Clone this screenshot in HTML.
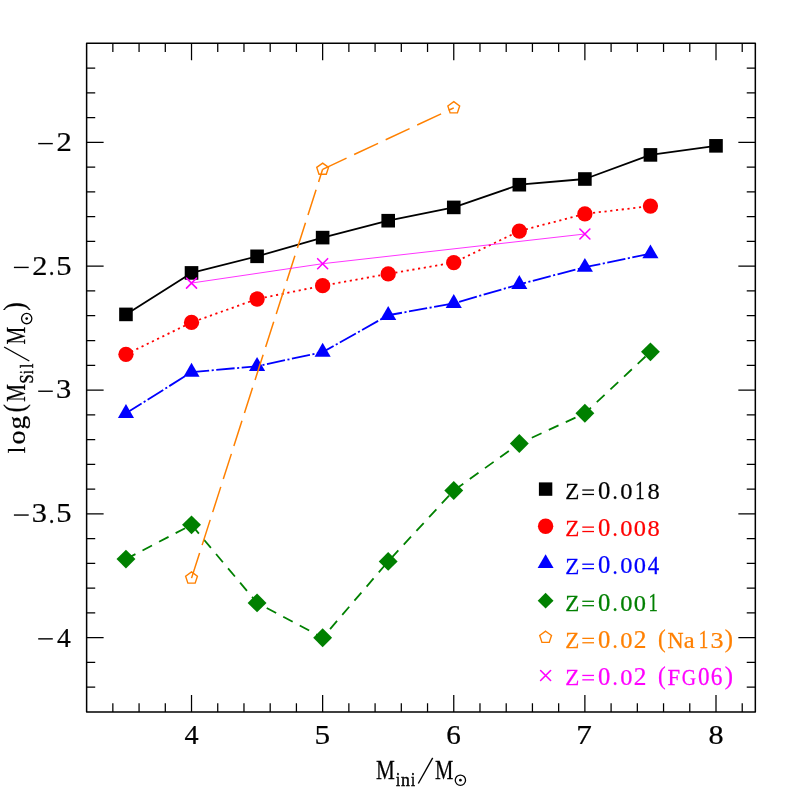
<!DOCTYPE html>
<html><head><meta charset="utf-8"><title>log(MSil/Msun) vs Mini/Msun</title>
<style>html,body{margin:0;padding:0;background:#fff;}body{width:797px;height:797px;overflow:hidden;}svg{display:block;}text{font-family:"Liberation Serif",serif;}</style>
</head><body>
<svg width="797" height="797" viewBox="0 0 797 797">
<desc>Plot of log(M_Sil/M_sun) versus M_ini/M_sun for Z=0.018, Z=0.008, Z=0.004, Z=0.001, Z=0.02 (Na13) and Z=0.02 (FG06)</desc>
<rect x="0" y="0" width="797" height="797" fill="#ffffff"/>
<g stroke="#000" stroke-width="1.5" fill="none" stroke-linecap="butt">
<rect x="86.62" y="43.35" width="668.71" height="668.60" stroke-linejoin="round"/>
<path d="M112.85 711.95V703.35M112.85 43.35V51.95M139.07 711.95V703.35M139.07 43.35V51.95M165.30 711.95V703.35M165.30 43.35V51.95M191.52 711.95V694.95M191.52 43.35V60.35M217.74 711.95V703.35M217.74 43.35V51.95M243.97 711.95V703.35M243.97 43.35V51.95M270.19 711.95V703.35M270.19 43.35V51.95M296.42 711.95V703.35M296.42 43.35V51.95M322.64 711.95V694.95M322.64 43.35V60.35M348.86 711.95V703.35M348.86 43.35V51.95M375.09 711.95V703.35M375.09 43.35V51.95M401.31 711.95V703.35M401.31 43.35V51.95M427.54 711.95V703.35M427.54 43.35V51.95M453.76 711.95V694.95M453.76 43.35V60.35M479.98 711.95V703.35M479.98 43.35V51.95M506.21 711.95V703.35M506.21 43.35V51.95M532.43 711.95V703.35M532.43 43.35V51.95M558.66 711.95V703.35M558.66 43.35V51.95M584.88 711.95V694.95M584.88 43.35V60.35M611.10 711.95V703.35M611.10 43.35V51.95M637.33 711.95V703.35M637.33 43.35V51.95M663.55 711.95V703.35M663.55 43.35V51.95M689.78 711.95V703.35M689.78 43.35V51.95M716.00 711.95V694.95M716.00 43.35V60.35M742.22 711.95V703.35M742.22 43.35V51.95M86.62 68.11H95.22M755.34 68.11H746.74M86.62 92.87H95.22M755.34 92.87H746.74M86.62 117.64H95.22M755.34 117.64H746.74M86.62 142.40H103.62M755.34 142.40H738.34M86.62 167.16H95.22M755.34 167.16H746.74M86.62 191.93H95.22M755.34 191.93H746.74M86.62 216.69H95.22M755.34 216.69H746.74M86.62 241.45H95.22M755.34 241.45H746.74M86.62 266.22H103.62M755.34 266.22H738.34M86.62 290.98H95.22M755.34 290.98H746.74M86.62 315.74H95.22M755.34 315.74H746.74M86.62 340.50H95.22M755.34 340.50H746.74M86.62 365.27H95.22M755.34 365.27H746.74M86.62 390.03H103.62M755.34 390.03H738.34M86.62 414.79H95.22M755.34 414.79H746.74M86.62 439.56H95.22M755.34 439.56H746.74M86.62 464.32H95.22M755.34 464.32H746.74M86.62 489.08H95.22M755.34 489.08H746.74M86.62 513.85H103.62M755.34 513.85H738.34M86.62 538.61H95.22M755.34 538.61H746.74M86.62 563.37H95.22M755.34 563.37H746.74M86.62 588.13H95.22M755.34 588.13H746.74M86.62 612.90H95.22M755.34 612.90H746.74M86.62 637.66H103.62M755.34 637.66H738.34M86.62 662.42H95.22M755.34 662.42H746.74M86.62 687.19H95.22M755.34 687.19H746.74" stroke-width="1.25"/>
</g>
<polyline points="125.96,314.40 191.52,272.91 257.08,256.32 322.64,237.61 388.20,220.70 453.76,207.40 519.32,184.70 584.88,179.01 650.44,154.90 716.00,145.84" stroke="#000000" stroke-width="1.8" fill="none" stroke-linecap="butt" stroke-linejoin="round"/>
<rect x="119.16" y="307.60" width="13.60" height="13.60" fill="#000000"/>
<rect x="184.72" y="266.11" width="13.60" height="13.60" fill="#000000"/>
<rect x="250.28" y="249.52" width="13.60" height="13.60" fill="#000000"/>
<rect x="315.84" y="230.81" width="13.60" height="13.60" fill="#000000"/>
<rect x="381.40" y="213.90" width="13.60" height="13.60" fill="#000000"/>
<rect x="446.96" y="200.60" width="13.60" height="13.60" fill="#000000"/>
<rect x="512.52" y="177.90" width="13.60" height="13.60" fill="#000000"/>
<rect x="578.08" y="172.21" width="13.60" height="13.60" fill="#000000"/>
<rect x="643.64" y="148.10" width="13.60" height="13.60" fill="#000000"/>
<rect x="709.20" y="139.04" width="13.60" height="13.60" fill="#000000"/>
<polyline points="125.96,354.35 191.52,322.42 257.08,299.02 322.64,285.70 388.20,273.90 453.76,262.61 519.32,231.07 584.88,213.87 650.44,206.12" stroke="#ff0000" stroke-width="1.8" fill="none" stroke-linecap="butt" stroke-linejoin="round" stroke-dasharray="2.15 3.63"/>
<circle cx="125.96" cy="354.35" r="7.65" fill="#ff0000"/>
<circle cx="191.52" cy="322.42" r="7.65" fill="#ff0000"/>
<circle cx="257.08" cy="299.02" r="7.65" fill="#ff0000"/>
<circle cx="322.64" cy="285.70" r="7.65" fill="#ff0000"/>
<circle cx="388.20" cy="273.90" r="7.65" fill="#ff0000"/>
<circle cx="453.76" cy="262.61" r="7.65" fill="#ff0000"/>
<circle cx="519.32" cy="231.07" r="7.65" fill="#ff0000"/>
<circle cx="584.88" cy="213.87" r="7.65" fill="#ff0000"/>
<circle cx="650.44" cy="206.12" r="7.65" fill="#ff0000"/>
<polyline points="125.96,413.27 191.52,372.17 257.08,366.23 322.64,352.12 388.20,315.24 453.76,303.36 519.32,284.29 584.88,267.21 650.44,253.70" stroke="#0000ff" stroke-width="1.8" fill="none" stroke-linecap="butt" stroke-linejoin="round" stroke-dasharray="18.45 2.5 2.1 2.5"/>
<polygon points="125.96,403.97 134.01,417.92 117.91,417.92" fill="#0000ff"/>
<polygon points="191.52,362.87 199.57,376.82 183.47,376.82" fill="#0000ff"/>
<polygon points="257.08,356.93 265.13,370.88 249.03,370.88" fill="#0000ff"/>
<polygon points="322.64,342.82 330.69,356.77 314.59,356.77" fill="#0000ff"/>
<polygon points="388.20,305.94 396.25,319.89 380.15,319.89" fill="#0000ff"/>
<polygon points="453.76,294.06 461.81,308.01 445.71,308.01" fill="#0000ff"/>
<polygon points="519.32,274.99 527.37,288.94 511.27,288.94" fill="#0000ff"/>
<polygon points="584.88,257.91 592.93,271.86 576.83,271.86" fill="#0000ff"/>
<polygon points="650.44,244.40 658.49,258.35 642.39,258.35" fill="#0000ff"/>
<polyline points="125.96,559.10 191.52,524.86 257.08,602.89 322.64,637.70 388.20,561.40 453.76,490.50 519.32,443.47 584.88,413.27 650.44,351.87" stroke="#008000" stroke-width="1.8" fill="none" stroke-linecap="butt" stroke-linejoin="round" stroke-dasharray="10.7 7.98"/>
<polygon points="125.96,549.65 135.41,559.10 125.96,568.55 116.51,559.10" fill="#008000"/>
<polygon points="191.52,515.41 200.97,524.86 191.52,534.31 182.07,524.86" fill="#008000"/>
<polygon points="257.08,593.44 266.53,602.89 257.08,612.34 247.63,602.89" fill="#008000"/>
<polygon points="322.64,628.25 332.09,637.70 322.64,647.15 313.19,637.70" fill="#008000"/>
<polygon points="388.20,551.95 397.65,561.40 388.20,570.85 378.75,561.40" fill="#008000"/>
<polygon points="453.76,481.05 463.21,490.50 453.76,499.95 444.31,490.50" fill="#008000"/>
<polygon points="519.32,434.02 528.77,443.47 519.32,452.92 509.87,443.47" fill="#008000"/>
<polygon points="584.88,403.82 594.33,413.27 584.88,422.72 575.43,413.27" fill="#008000"/>
<polygon points="650.44,342.42 659.89,351.87 650.44,361.32 640.99,351.87" fill="#008000"/>
<g stroke="#ff8000" stroke-width="1.5" fill="none" stroke-linecap="butt" stroke-dasharray="26.5 8.17">
<line x1="191.52" y1="578.14" x2="322.64" y2="169.31"/>
</g>
<g stroke="#ff8000" stroke-width="1.5" fill="none" stroke-linecap="butt" stroke-dasharray="26.4 8.4">
<line x1="322.64" y1="169.31" x2="453.76" y2="107.89"/>
</g>
<polygon points="191.52,571.94 197.42,576.22 195.16,583.15 187.88,583.15 185.62,576.22" fill="none" stroke="#ff8000" stroke-width="1.4" stroke-linejoin="miter"/>
<polygon points="322.64,163.11 328.54,167.39 326.28,174.32 319.00,174.32 316.74,167.39" fill="none" stroke="#ff8000" stroke-width="1.4" stroke-linejoin="miter"/>
<polygon points="453.76,101.69 459.66,105.97 457.40,112.91 450.12,112.91 447.86,105.97" fill="none" stroke="#ff8000" stroke-width="1.4" stroke-linejoin="miter"/>
<polyline points="191.52,283.06 322.64,263.70 584.88,233.99" stroke="#ff00ff" stroke-width="0.8" fill="none" stroke-linecap="butt" stroke-linejoin="round"/>
<path d="M186.52 278.06L196.52 288.06M186.52 288.06L196.52 278.06" stroke="#ff00ff" stroke-width="1.6" stroke-linecap="round" fill="none"/>
<path d="M317.64 258.70L327.64 268.70M317.64 268.70L327.64 258.70" stroke="#ff00ff" stroke-width="1.6" stroke-linecap="round" fill="none"/>
<path d="M579.88 228.99L589.88 238.99M579.88 238.99L589.88 228.99" stroke="#ff00ff" stroke-width="1.6" stroke-linecap="round" fill="none"/>
<rect x="538.90" y="482.40" width="13.40" height="13.40" fill="#000000"/>
<circle cx="545.60" cy="526.30" r="7.70" fill="#ff0000"/>
<polygon points="545.60,554.30 553.57,568.10 537.63,568.10" fill="#0000ff"/>
<polygon points="545.60,592.80 553.50,600.70 545.60,608.60 537.70,600.70" fill="#008000"/>
<polygon points="545.60,631.20 551.50,635.48 549.24,642.42 541.96,642.42 539.70,635.48" fill="none" stroke="#ff8000" stroke-width="1.4" stroke-linejoin="miter"/>
<path d="M540.60 670.50L550.60 680.50M540.60 680.50L550.60 670.50" stroke="#ff00ff" stroke-width="1.6" stroke-linecap="round" fill="none"/>
<g id="labels" style="opacity:0.999">
<text transform="translate(184.48,743.80) scale(1.083,1.042)" font-size="26" fill="#000" stroke="#000" stroke-width="0.25" vector-effect="non-scaling-stroke">4</text>
<text transform="translate(314.57,743.67) scale(1.203,1.059)" font-size="26" fill="#000" stroke="#000" stroke-width="0.25" vector-effect="non-scaling-stroke">5</text>
<text transform="translate(446.25,743.68) scale(1.120,1.035)" font-size="26" fill="#000" stroke="#000" stroke-width="0.25" vector-effect="non-scaling-stroke">6</text>
<text transform="translate(576.32,743.80) scale(1.203,1.067)" font-size="26" fill="#000" stroke="#000" stroke-width="0.25" vector-effect="non-scaling-stroke">7</text>
<text transform="translate(708.46,743.68) scale(1.160,1.035)" font-size="26" fill="#000" stroke="#000" stroke-width="0.25" vector-effect="non-scaling-stroke">8</text>
<text transform="translate(56.54,151.25) scale(1.176,1.036)" font-size="26" fill="#000" stroke="#000" stroke-width="0.25" vector-effect="non-scaling-stroke">2</text>
<line x1="38.20" y1="143.60" x2="52.80" y2="143.60" stroke="#000" stroke-width="1.4"/>
<text transform="translate(56.37,274.64) scale(1.176,1.036)" font-size="26" fill="#000" stroke="#000" stroke-width="0.25" vector-effect="non-scaling-stroke">5</text>
<text transform="translate(48.85,275.07) scale(0.892,1.000)" font-size="26" fill="#000" stroke="#000" stroke-width="0.25" vector-effect="non-scaling-stroke">.</text>
<text transform="translate(32.15,275.07) scale(1.167,1.036)" font-size="26" fill="#000" stroke="#000" stroke-width="0.25" vector-effect="non-scaling-stroke">2</text>
<line x1="13.90" y1="267.42" x2="28.70" y2="267.42" stroke="#000" stroke-width="1.4"/>
<text transform="translate(56.07,398.47) scale(1.176,1.013)" font-size="26" fill="#000" stroke="#000" stroke-width="0.25" vector-effect="non-scaling-stroke">3</text>
<line x1="38.20" y1="391.23" x2="52.80" y2="391.23" stroke="#000" stroke-width="1.4"/>
<text transform="translate(56.37,522.27) scale(1.176,1.036)" font-size="26" fill="#000" stroke="#000" stroke-width="0.25" vector-effect="non-scaling-stroke">5</text>
<text transform="translate(48.85,522.70) scale(0.892,1.000)" font-size="26" fill="#000" stroke="#000" stroke-width="0.25" vector-effect="non-scaling-stroke">.</text>
<text transform="translate(31.68,522.28) scale(1.167,1.013)" font-size="26" fill="#000" stroke="#000" stroke-width="0.25" vector-effect="non-scaling-stroke">3</text>
<line x1="13.90" y1="515.05" x2="28.70" y2="515.05" stroke="#000" stroke-width="1.4"/>
<text transform="translate(57.07,646.51) scale(1.058,1.036)" font-size="26" fill="#000" stroke="#000" stroke-width="0.25" vector-effect="non-scaling-stroke">4</text>
<line x1="38.20" y1="638.86" x2="52.80" y2="638.86" stroke="#000" stroke-width="1.4"/>
<text transform="translate(376.07,778.50) scale(0.815,1.049)" font-size="26" fill="#000" stroke="#000" stroke-width="0.25" vector-effect="non-scaling-stroke">M</text>
<text transform="translate(396.07,786.20) scale(0.800,1.000)" font-size="18.5" fill="#000" stroke="#000" stroke-width="0.45" vector-effect="non-scaling-stroke">i</text>
<text transform="translate(401.12,786.20) scale(0.960,1.000)" font-size="18.5" fill="#000" stroke="#000" stroke-width="0.45" vector-effect="non-scaling-stroke">n</text>
<text transform="translate(411.07,786.20) scale(0.800,1.000)" font-size="18.5" fill="#000" stroke="#000" stroke-width="0.45" vector-effect="non-scaling-stroke">i</text>
<line x1="418.30" y1="783.50" x2="432.70" y2="757.90" stroke="#000" stroke-width="1.4"/>
<text transform="translate(434.88,778.50) scale(0.792,1.049)" font-size="26" fill="#000" stroke="#000" stroke-width="0.25" vector-effect="non-scaling-stroke">M</text>
<circle cx="460.40" cy="780.20" r="5.15" fill="none" stroke="#000" stroke-width="1.3"/><circle cx="460.40" cy="780.20" r="1.35" fill="#000"/>
<text transform="translate(24.7,0) rotate(-90) translate(-453.36,0.00) scale(0.892,0.996)" font-size="26" fill="#000" stroke="#000" stroke-width="0.25" vector-effect="non-scaling-stroke">l</text>
<text transform="translate(24.7,0) rotate(-90) translate(-444.38,-0.10) scale(1.081,0.992)" font-size="26" fill="#000" stroke="#000" stroke-width="0.25" vector-effect="non-scaling-stroke">o</text>
<text transform="translate(24.7,0) rotate(-90) translate(-429.46,0.53) scale(1.053,0.979)" font-size="26" fill="#000" stroke="#000" stroke-width="0.25" vector-effect="non-scaling-stroke">g</text>
<text transform="translate(24.7,0) rotate(-90) translate(-412.26,-0.99) scale(0.930,1.106)" font-size="26" fill="#000" stroke="#000" stroke-width="0.25" vector-effect="non-scaling-stroke">(</text>
<text transform="translate(24.7,0) rotate(-90) translate(-401.81,0.00) scale(0.765,1.049)" font-size="26" fill="#000" stroke="#000" stroke-width="0.25" vector-effect="non-scaling-stroke">M</text>
<text transform="translate(24.7,0) rotate(-90) translate(-383.41,7.80) scale(0.877,1.000)" font-size="18.5" fill="#000" stroke="#000" stroke-width="0.45" vector-effect="non-scaling-stroke">S</text>
<text transform="translate(24.7,0) rotate(-90) translate(-373.78,7.80) scale(0.605,1.000)" font-size="18.5" fill="#000" stroke="#000" stroke-width="0.45" vector-effect="non-scaling-stroke">i</text>
<text transform="translate(24.7,0) rotate(-90) translate(-368.26,7.80) scale(0.908,1.000)" font-size="18.5" fill="#000" stroke="#000" stroke-width="0.45" vector-effect="non-scaling-stroke">l</text>
<line x1="-361.00" y1="4.60" x2="-347.00" y2="-20.60" stroke="#000" stroke-width="1.4" transform="translate(24.7,0) rotate(-90)"/>
<text transform="translate(24.7,0) rotate(-90) translate(-344.41,0.00) scale(0.765,1.049)" font-size="26" fill="#000" stroke="#000" stroke-width="0.25" vector-effect="non-scaling-stroke">M</text>
<circle cx="26.70" cy="318.60" r="5.15" fill="none" stroke="#000" stroke-width="1.3"/><circle cx="26.70" cy="318.60" r="1.35" fill="#000"/>
<text transform="translate(24.7,0) rotate(-90) translate(-310.80,-0.99) scale(0.985,1.106)" font-size="26" fill="#000" stroke="#000" stroke-width="0.25" vector-effect="non-scaling-stroke">)</text>
<text transform="translate(565.22,499.35) scale(0.982,1.018)" font-size="23.5" fill="#000000" stroke="#000000" stroke-width="0.25" vector-effect="non-scaling-stroke">Z</text>
<line x1="582.30" y1="490.05" x2="594.00" y2="490.05" stroke="#000000" stroke-width="1.3"/>
<line x1="582.30" y1="494.45" x2="594.00" y2="494.45" stroke="#000000" stroke-width="1.3"/>
<text transform="translate(598.03,499.27) scale(1.050,1.027)" font-size="23.5" fill="#000000" stroke="#000000" stroke-width="0.25" vector-effect="non-scaling-stroke">0</text>
<text transform="translate(612.60,499.35) scale(0.885,1.000)" font-size="23.5" fill="#000000" stroke="#000000" stroke-width="0.25" vector-effect="non-scaling-stroke">.</text>
<text transform="translate(620.14,499.27) scale(1.041,1.027)" font-size="23.5" fill="#000000" stroke="#000000" stroke-width="0.25" vector-effect="non-scaling-stroke">0</text>
<text transform="translate(635.14,499.35) scale(0.794,1.032)" font-size="23.5" fill="#000000" stroke="#000000" stroke-width="0.25" vector-effect="non-scaling-stroke">1</text>
<text transform="translate(647.44,499.27) scale(1.041,1.027)" font-size="23.5" fill="#000000" stroke="#000000" stroke-width="0.25" vector-effect="non-scaling-stroke">8</text>
<text transform="translate(565.22,536.43) scale(0.982,1.018)" font-size="23.5" fill="#ff0000" stroke="#ff0000" stroke-width="0.25" vector-effect="non-scaling-stroke">Z</text>
<line x1="582.30" y1="527.13" x2="594.00" y2="527.13" stroke="#ff0000" stroke-width="1.3"/>
<line x1="582.30" y1="531.53" x2="594.00" y2="531.53" stroke="#ff0000" stroke-width="1.3"/>
<text transform="translate(598.03,536.35) scale(1.050,1.027)" font-size="23.5" fill="#ff0000" stroke="#ff0000" stroke-width="0.25" vector-effect="non-scaling-stroke">0</text>
<text transform="translate(612.60,536.43) scale(0.885,1.000)" font-size="23.5" fill="#ff0000" stroke="#ff0000" stroke-width="0.25" vector-effect="non-scaling-stroke">.</text>
<text transform="translate(620.14,536.35) scale(1.041,1.027)" font-size="23.5" fill="#ff0000" stroke="#ff0000" stroke-width="0.25" vector-effect="non-scaling-stroke">0</text>
<text transform="translate(633.84,536.35) scale(1.041,1.027)" font-size="23.5" fill="#ff0000" stroke="#ff0000" stroke-width="0.25" vector-effect="non-scaling-stroke">0</text>
<text transform="translate(647.44,536.35) scale(1.041,1.027)" font-size="23.5" fill="#ff0000" stroke="#ff0000" stroke-width="0.25" vector-effect="non-scaling-stroke">8</text>
<text transform="translate(565.22,573.51) scale(0.982,1.018)" font-size="23.5" fill="#0000ff" stroke="#0000ff" stroke-width="0.25" vector-effect="non-scaling-stroke">Z</text>
<line x1="582.30" y1="564.21" x2="594.00" y2="564.21" stroke="#0000ff" stroke-width="1.3"/>
<line x1="582.30" y1="568.61" x2="594.00" y2="568.61" stroke="#0000ff" stroke-width="1.3"/>
<text transform="translate(598.03,573.43) scale(1.050,1.027)" font-size="23.5" fill="#0000ff" stroke="#0000ff" stroke-width="0.25" vector-effect="non-scaling-stroke">0</text>
<text transform="translate(612.60,573.51) scale(0.885,1.000)" font-size="23.5" fill="#0000ff" stroke="#0000ff" stroke-width="0.25" vector-effect="non-scaling-stroke">.</text>
<text transform="translate(620.14,573.43) scale(1.041,1.027)" font-size="23.5" fill="#0000ff" stroke="#0000ff" stroke-width="0.25" vector-effect="non-scaling-stroke">0</text>
<text transform="translate(633.84,573.43) scale(1.041,1.027)" font-size="23.5" fill="#0000ff" stroke="#0000ff" stroke-width="0.25" vector-effect="non-scaling-stroke">0</text>
<text transform="translate(647.84,573.51) scale(0.971,1.032)" font-size="23.5" fill="#0000ff" stroke="#0000ff" stroke-width="0.25" vector-effect="non-scaling-stroke">4</text>
<text transform="translate(565.22,610.59) scale(0.982,1.018)" font-size="23.5" fill="#008000" stroke="#008000" stroke-width="0.25" vector-effect="non-scaling-stroke">Z</text>
<line x1="582.30" y1="601.29" x2="594.00" y2="601.29" stroke="#008000" stroke-width="1.3"/>
<line x1="582.30" y1="605.69" x2="594.00" y2="605.69" stroke="#008000" stroke-width="1.3"/>
<text transform="translate(598.03,610.51) scale(1.050,1.027)" font-size="23.5" fill="#008000" stroke="#008000" stroke-width="0.25" vector-effect="non-scaling-stroke">0</text>
<text transform="translate(612.60,610.59) scale(0.885,1.000)" font-size="23.5" fill="#008000" stroke="#008000" stroke-width="0.25" vector-effect="non-scaling-stroke">.</text>
<text transform="translate(620.14,610.51) scale(1.041,1.027)" font-size="23.5" fill="#008000" stroke="#008000" stroke-width="0.25" vector-effect="non-scaling-stroke">0</text>
<text transform="translate(633.84,610.51) scale(1.041,1.027)" font-size="23.5" fill="#008000" stroke="#008000" stroke-width="0.25" vector-effect="non-scaling-stroke">0</text>
<text transform="translate(648.54,610.59) scale(0.794,1.032)" font-size="23.5" fill="#008000" stroke="#008000" stroke-width="0.25" vector-effect="non-scaling-stroke">1</text>
<text transform="translate(565.22,647.67) scale(0.982,1.018)" font-size="23.5" fill="#ff8000" stroke="#ff8000" stroke-width="0.25" vector-effect="non-scaling-stroke">Z</text>
<line x1="582.30" y1="638.37" x2="594.00" y2="638.37" stroke="#ff8000" stroke-width="1.3"/>
<line x1="582.30" y1="642.77" x2="594.00" y2="642.77" stroke="#ff8000" stroke-width="1.3"/>
<text transform="translate(598.03,647.59) scale(1.050,1.027)" font-size="23.5" fill="#ff8000" stroke="#ff8000" stroke-width="0.25" vector-effect="non-scaling-stroke">0</text>
<text transform="translate(612.60,647.67) scale(0.885,1.000)" font-size="23.5" fill="#ff8000" stroke="#ff8000" stroke-width="0.25" vector-effect="non-scaling-stroke">.</text>
<text transform="translate(620.14,647.59) scale(1.041,1.027)" font-size="23.5" fill="#ff8000" stroke="#ff8000" stroke-width="0.25" vector-effect="non-scaling-stroke">0</text>
<text transform="translate(633.81,647.67) scale(1.079,1.032)" font-size="23.5" fill="#ff8000" stroke="#ff8000" stroke-width="0.25" vector-effect="non-scaling-stroke">2</text>
<text transform="translate(657.88,646.92) scale(0.983,1.080)" font-size="23.5" fill="#ff8000" stroke="#ff8000" stroke-width="0.25" vector-effect="non-scaling-stroke">(</text>
<text transform="translate(724.72,646.92) scale(1.057,1.080)" font-size="23.5" fill="#ff8000" stroke="#ff8000" stroke-width="0.25" vector-effect="non-scaling-stroke">)</text>
<text transform="translate(667.55,647.67) scale(0.947,1.018)" font-size="23.5" fill="#ff8000" stroke="#ff8000" stroke-width="0.25" vector-effect="non-scaling-stroke">N</text>
<text transform="translate(683.83,647.67) scale(1.047,1.000)" font-size="23.5" fill="#ff8000" stroke="#ff8000" stroke-width="0.25" vector-effect="non-scaling-stroke">a</text>
<text transform="translate(698.70,647.67) scale(0.817,1.032)" font-size="23.5" fill="#ff8000" stroke="#ff8000" stroke-width="0.25" vector-effect="non-scaling-stroke">1</text>
<text transform="translate(710.38,647.59) scale(1.110,1.027)" font-size="23.5" fill="#ff8000" stroke="#ff8000" stroke-width="0.25" vector-effect="non-scaling-stroke">3</text>
<text transform="translate(565.22,684.75) scale(0.982,1.018)" font-size="23.5" fill="#ff00ff" stroke="#ff00ff" stroke-width="0.25" vector-effect="non-scaling-stroke">Z</text>
<line x1="582.30" y1="675.45" x2="594.00" y2="675.45" stroke="#ff00ff" stroke-width="1.3"/>
<line x1="582.30" y1="679.85" x2="594.00" y2="679.85" stroke="#ff00ff" stroke-width="1.3"/>
<text transform="translate(598.03,684.67) scale(1.050,1.027)" font-size="23.5" fill="#ff00ff" stroke="#ff00ff" stroke-width="0.25" vector-effect="non-scaling-stroke">0</text>
<text transform="translate(612.60,684.75) scale(0.885,1.000)" font-size="23.5" fill="#ff00ff" stroke="#ff00ff" stroke-width="0.25" vector-effect="non-scaling-stroke">.</text>
<text transform="translate(620.14,684.67) scale(1.041,1.027)" font-size="23.5" fill="#ff00ff" stroke="#ff00ff" stroke-width="0.25" vector-effect="non-scaling-stroke">0</text>
<text transform="translate(633.81,684.75) scale(1.079,1.032)" font-size="23.5" fill="#ff00ff" stroke="#ff00ff" stroke-width="0.25" vector-effect="non-scaling-stroke">2</text>
<text transform="translate(657.88,684.00) scale(0.983,1.080)" font-size="23.5" fill="#ff00ff" stroke="#ff00ff" stroke-width="0.25" vector-effect="non-scaling-stroke">(</text>
<text transform="translate(724.72,684.00) scale(1.057,1.080)" font-size="23.5" fill="#ff00ff" stroke="#ff00ff" stroke-width="0.25" vector-effect="non-scaling-stroke">)</text>
<text transform="translate(667.55,684.75) scale(0.966,1.018)" font-size="23.5" fill="#ff00ff" stroke="#ff00ff" stroke-width="0.25" vector-effect="non-scaling-stroke">F</text>
<text transform="translate(681.68,684.58) scale(0.842,0.997)" font-size="23.5" fill="#ff00ff" stroke="#ff00ff" stroke-width="0.25" vector-effect="non-scaling-stroke">G</text>
<text transform="translate(698.08,684.67) scale(0.982,1.027)" font-size="23.5" fill="#ff00ff" stroke="#ff00ff" stroke-width="0.25" vector-effect="non-scaling-stroke">0</text>
<text transform="translate(710.87,684.67) scale(0.995,1.027)" font-size="23.5" fill="#ff00ff" stroke="#ff00ff" stroke-width="0.25" vector-effect="non-scaling-stroke">6</text>
</g>
</svg>
</body></html>
